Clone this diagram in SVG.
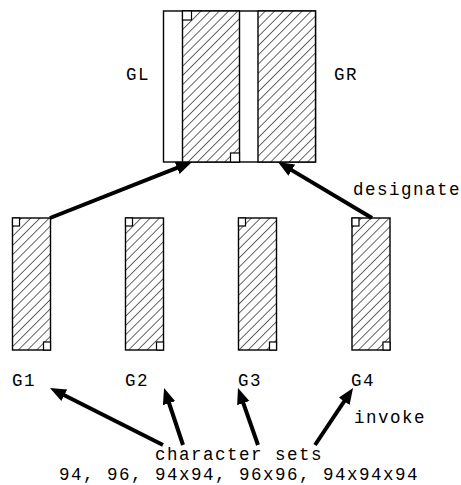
<svg xmlns="http://www.w3.org/2000/svg" width="461" height="485" viewBox="0 0 461 485">
  <style>
    .frame { fill: #fff; stroke: #000; stroke-width: 1.4; }
    .hatch { fill: url(#diag); stroke: #000; stroke-width: 1.4; }
    .corner { fill: #fff; stroke: #000; stroke-width: 1.2; }
    .lbl { font-family: "Liberation Mono", "DejaVu Sans Mono", monospace; font-size: 17.5px; letter-spacing: 1.5px; fill: #000; }
    .arrow { stroke: #000; stroke-width: 4; fill: none; marker-end: url(#head); }
  </style>
  <defs>
    <pattern id="diag" patternUnits="userSpaceOnUse" width="6.5" height="6.5" patternTransform="rotate(45)">
      <rect width="6.5" height="6.5" fill="#fff"/>
      <line x1="0" y1="0" x2="0" y2="6.5" stroke="#000" stroke-width="1.2"/>
    </pattern>
    <marker id="head" markerUnits="userSpaceOnUse" markerWidth="18" markerHeight="14" refX="6" refY="6.5" orient="auto">
      <path d="M0,0 L16,6.5 L0,13 z" fill="#000"/>
    </marker>
  </defs>

  <!-- graphic planes GL / GR -->
  <g id="planes">
    <rect class="frame" x="163.5" y="11" width="152" height="151"/>
    <rect class="hatch" x="182.5" y="11" width="57" height="151"/>
    <rect class="hatch" x="258" y="11" width="57.5" height="151"/>
    <rect class="corner" x="182.5" y="11" width="9" height="9"/>
    <rect class="corner" x="230.5" y="153" width="9" height="9"/>
    <text class="lbl" x="126" y="80">GL</text>
    <text class="lbl" x="334" y="80">GR</text>
  </g>

  <!-- code element sets G1..G4 -->
  <g id="g1">
    <rect class="hatch" x="12.5" y="218" width="38" height="132"/>
    <rect class="corner" x="12.5" y="218" width="7" height="8"/>
    <rect class="corner" x="43.5" y="342" width="7" height="8"/>
    <text class="lbl" x="12" y="386">G1</text>
  </g>
  <g id="g2">
    <rect class="hatch" x="125.5" y="218" width="38" height="132"/>
    <rect class="corner" x="125.5" y="218" width="7" height="8"/>
    <rect class="corner" x="156.5" y="342" width="7" height="8"/>
    <text class="lbl" x="125" y="386">G2</text>
  </g>
  <g id="g3">
    <rect class="hatch" x="238.5" y="218" width="38" height="132"/>
    <rect class="corner" x="238.5" y="218" width="7" height="8"/>
    <rect class="corner" x="269.5" y="342" width="7" height="8"/>
    <text class="lbl" x="238" y="386">G3</text>
  </g>
  <g id="g4">
    <rect class="hatch" x="352" y="218" width="38" height="132"/>
    <rect class="corner" x="352" y="218" width="7" height="8"/>
    <rect class="corner" x="383" y="342" width="7" height="8"/>
    <text class="lbl" x="351" y="386">G4</text>
  </g>

  <!-- character set repertoire -->
  <g id="charsets">
    <text class="lbl" x="155" y="460">character sets</text>
    <text class="lbl" x="59" y="480">94, 96, 94x94, 96x96, 94x94x94</text>
  </g>

  <!-- connectors -->
  <g id="connectors">
    <line class="arrow" x1="50" y1="218" x2="182.7" y2="165.7"/>
    <line class="arrow" x1="372" y1="218" x2="286.6" y2="167.1"/>
    <line class="arrow" x1="163" y1="445" x2="58.9" y2="392.5"/>
    <line class="arrow" x1="183" y1="445" x2="167.2" y2="397.5"/>
    <line class="arrow" x1="258" y1="445" x2="241.3" y2="397.4"/>
    <line class="arrow" x1="315" y1="445" x2="347.5" y2="396.3"/>
    <text class="lbl" x="353" y="195">designate</text>
    <text class="lbl" x="354" y="423">invoke</text>
  </g>
</svg>
